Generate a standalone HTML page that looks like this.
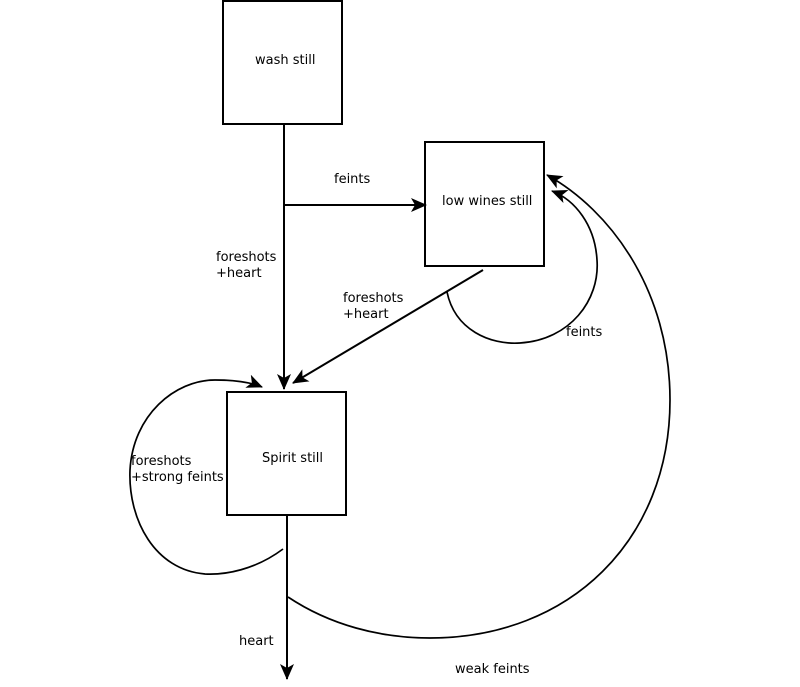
<!DOCTYPE html>
<html><head><style>
body{margin:0;background:#fff;}
svg text{font-family:"DejaVu Sans","Liberation Sans",sans-serif;font-size:13px;fill:#000;}
</style></head><body>
<svg width="800" height="682" viewBox="0 0 800 682" xmlns="http://www.w3.org/2000/svg">
<defs><marker id="a" viewBox="0 0 16 14" markerWidth="16" markerHeight="14" refX="15" refY="7" orient="auto" markerUnits="userSpaceOnUse"><path d="M0,0 L16,7 L0,14 L4,7 Z" fill="#000"/></marker></defs>
<g fill="none" stroke="#000" stroke-width="2">
<rect x="223" y="1" width="119" height="123"/>
<rect x="425" y="142" width="119" height="124"/>
<rect x="227" y="392" width="119" height="123"/>
<line x1="284" y1="124" x2="284" y2="389" marker-end="url(#a)"/>
<line x1="284" y1="205" x2="426" y2="205" marker-end="url(#a)"/>
<line x1="483" y1="270" x2="293" y2="383" marker-end="url(#a)"/>
<line x1="287" y1="515" x2="287" y2="679" marker-end="url(#a)"/>
<path d="M447,292 C455,330 490,345 520,343 C570,340 600,300 597,260 C595,225 575,200 552,191" marker-end="url(#a)" stroke-width="1.7"/>
<path d="M288,597 C330,625 380,638 430,638 C570,638 670,540 670,400 C670,290 610,210 547,175" marker-end="url(#a)" stroke-width="1.7"/>
<path d="M283,549 C255,570 225,575 205,574 C155,570 128,520 130,470 C133,415 175,380 215,380 C235,380 250,382 262,387" marker-end="url(#a)" stroke-width="1.7"/>
</g>
<text x="255" y="64">wash still</text>
<text x="442" y="205">low wines still</text>
<text x="262" y="462">Spirit still</text>
<text x="334" y="183">feints</text>
<text x="216" y="261">foreshots</text>
<text x="216" y="277">+heart</text>
<text x="343" y="302">foreshots</text>
<text x="343" y="318">+heart</text>
<text x="566" y="336">feints</text>
<text x="131" y="465">foreshots</text>
<text x="131" y="481">+strong feints</text>
<text x="239" y="645">heart</text>
<text x="455" y="673">weak feints</text>
</svg>
</body></html>
